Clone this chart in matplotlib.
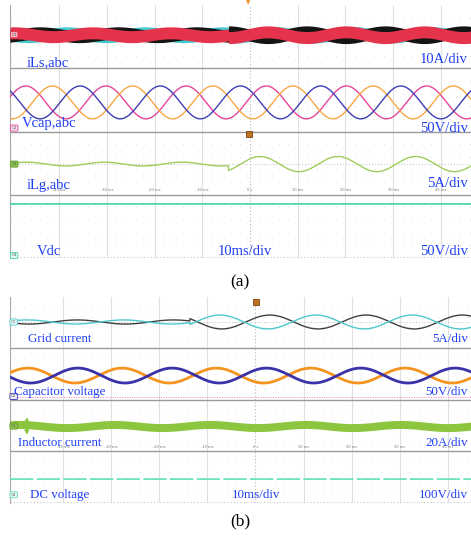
import numpy as np
import matplotlib.pyplot as plt

# scope time ticks (ms)
t_ticks = [-40, -30, -20, -10, 0, 10, 20, 30, 40]
t_tick_labels = ['-40 ms', '-30 ms', '-20 ms', '-10 ms', '0 s',
                 '10 ms', '20 ms', '30 ms', '40 ms']

# ---- panel (a), y in div (0 = screen bottom), t in ms
a_step = -4.5                       # disturbance instant
ils_offset = 7.06
ils_halfwidth = 0.19                # ripple band
ils_amp_before = [0.06, 0.06, 0.06]     # red, black, cyan
ils_amp_after = [0.09, 0.09, 0.07]
ils_period = 16.4
ils_peak_before = [-33.0, -44.0, -38.4]
ils_peak_after = [3.7, 11.9, 5.0]

vcap_offset = 4.92
vcap_amp = 0.52
vcap_period = 16.8
vcap_peak = [3.4, 9.0, 14.8]        # pink, orange, blue

ilg_offset = 2.97
ilg_amp_before = 0.06
ilg_amp_after = 0.24
ilg_period = 16.3
ilg_peak = 2.1

vdc_a_level = 1.71

# ---- panel (b)
b_step = -13.6
igrid_offset = 7.01
igrid_amp_before = 0.08
igrid_amp_after = 0.27
igrid_period = 20.0
igrid_peak = [3.0, -7.4]            # black, cyan

vcb_offset = 4.93
vcb_amp = 0.29
vcb_period = 19.6
vcb_peak = [11.5, 2.3]              # orange, blue

ilb_offset = 2.97
ilb_halfwidth = 0.155
ilb_amp = 0.06
ilb_period = 19.8
ilb_peak = 10.3

vdc_b_level = 0.91

labels_a = ['iLs,abc', 'Vcap,abc', 'iLg,abc', 'Vdc']
scales_a = ['10A/div', '50V/div', '5A/div', '50V/div']
labels_b = ['Grid current', 'Capacitor voltage', 'Inductor current', 'DC voltage']
scales_b = ['5A/div', '50V/div', '20A/div', '100V/div']

BLUE_TXT = '#1f3ff5'
SERIF = 'Liberation Serif'


def wave(t, amp, period, peak):
    return amp * np.cos(2 * np.pi * (t - peak) / period)


def screen(ax, xlim):
    ax.set_xlim(*xlim)
    ax.set_ylim(0, 8)
    for s in ['top', 'right', 'bottom']:
        ax.spines[s].set_visible(False)
    ax.spines['left'].set_color('#a8a8a8')
    ax.set_xticks([])
    ax.set_yticks([])
    # dotted scope graticule
    gx, gy = np.meshgrid(np.arange(-50, 50, 2.0), np.arange(0.4, 8, 0.4))
    ax.scatter(gx.ravel(), gy.ravel(), s=0.3, color='#d4d4d4', lw=0, zorder=0)
    for tt in t_ticks:
        if tt == 0:
            ax.axvline(tt, color='#b8b8b8', lw=0.8, ls=(0, (1, 2)), zorder=0)
        else:
            ax.axvline(tt, color='#e0e0e0', lw=0.8, zorder=0)
    for y in [2, 4, 6]:
        ax.axhline(y, color='#9a9a9a', lw=1.0, zorder=1)
    ax.axhline(0.03, color='#c8c8c8', lw=0.8, ls=(0, (1, 2)), zorder=1)
    for tt, lab in zip(t_ticks, t_tick_labels):
        ax.text(tt, 2.08, lab, fontsize=2.6, color='#777777', ha='center', va='bottom')


def tag(ax, x, y, text, face, edge):
    ax.text(x, y, text, fontsize=3, color='#555555', ha='left', va='center',
            bbox=dict(boxstyle='round,pad=0.25', fc=face, ec=edge, lw=0.6), zorder=6)


fig = plt.figure(figsize=(4.71, 5.38), dpi=100)

# ================= panel (a)
ax = fig.add_axes([10 / 471, 1 - 258 / 538, 461 / 471, 253 / 538])
xa = (-50.3, 46.3)
screen(ax, xa)
t = np.linspace(xa[0], xa[1], 3000)
pre = t < a_step

band_colors = ['#e5334b', '#141414', '#45c9cf']
for i in [2, 1, 0]:
    c = np.where(pre, wave(t, ils_amp_before[i], ils_period, ils_peak_before[i]),
                 wave(t, ils_amp_after[i], ils_period, ils_peak_after[i])) + ils_offset
    ax.fill_between(t, c - ils_halfwidth, c + ils_halfwidth, color=band_colors[i],
                    lw=0, zorder=3 + (2 - i))

for pk, col in zip(vcap_peak, ['#e6449a', '#f7a845', '#3d3db5']):
    ax.plot(t, vcap_offset + wave(t, vcap_amp, vcap_period, pk), color=col, lw=1.0, zorder=3)

ax.axhline(ilg_offset, color='#bdbdbd', lw=0.7, ls=(0, (1, 2)), zorder=2)
ilg = np.where(pre, wave(t, ilg_amp_before, ilg_period, ilg_peak),
               wave(t, ilg_amp_after, ilg_period, ilg_peak)) + ilg_offset
ax.plot(t, ilg, color='#9fcd5a', lw=1.0, zorder=3)

ax.plot(t, np.full_like(t, vdc_a_level), color='#3fd6a2', lw=1.2, zorder=3)

tag(ax, -50.0, ils_offset, 'C1', '#f6b6c2', '#e5334b')
tag(ax, -50.0, 4.11, 'C2', '#fbe3ef', '#e6449a')
tag(ax, -50.0, ilg_offset, 'C3', '#8cc34a', '#6a9a30')
tag(ax, -50.0, 0.08, 'C4', '#e6faf3', '#3fd6a2')

ax.text(-0.4, 8.07, '\u25bc', fontsize=4, color='#f08a24', ha='center', va='center', clip_on=False)
ax.plot([-0.2], [3.92], marker='s', ms=4, color='#c0701e', mec='#603000', mew=0.5, zorder=7)

ya_lab = [6.19, 4.24, 2.28, 0.22]
ya_scale = [6.27, 4.11, 2.37, 0.22]
xa_lab = [-46.75, -47.8, -46.75, -44.65]
for lab, sc, yl, ys, xl in zip(labels_a, scales_a, ya_lab, ya_scale, xa_lab):
    ax.text(xl, yl, lab, family=SERIF, fontsize=10.5, color=BLUE_TXT, ha='left', va='center', zorder=8)
    ax.text(45.7, ys, sc, family=SERIF, fontsize=10.5, color=BLUE_TXT, ha='right', va='center', zorder=8)
ax.text(-6.7, 0.19, '10ms/div', family=SERIF, fontsize=10.5, color=BLUE_TXT, ha='left', va='center')

# ================= panel (b)
bx = fig.add_axes([10 / 471, 1 - 502.5 / 538, 461 / 471, 206 / 538])
xb = (-51.0, 44.8)
screen(bx, xb)
t = np.linspace(xb[0], xb[1], 3000)
pre = t < b_step

bx.axhline(igrid_offset, color='#bdbdbd', lw=0.7, ls=(0, (1, 2)), zorder=2)
for pk, col in zip(igrid_peak, ['#404040', '#4cc8cc']):
    y = np.where(pre, wave(t, igrid_amp_before, igrid_period, pk),
                 wave(t, igrid_amp_after, igrid_period, pk)) + igrid_offset
    bx.plot(t, y, color=col, lw=1.0, zorder=3)

bx.axhline(4.10, color='#e87fc0', lw=0.7, ls=(0, (1, 1.5)), zorder=2)
for pk, col in zip(vcb_peak, ['#f5941f', '#3a32a8']):
    bx.plot(t, vcb_offset + wave(t, vcb_amp, vcb_period, pk), color=col, lw=2.0, zorder=3)

c = ilb_offset + wave(t, ilb_amp, ilb_period, ilb_peak)
bx.fill_between(t, c - ilb_halfwidth, c + ilb_halfwidth, color='#8cc63e', lw=0, zorder=3)
bx.annotate('', xy=(-47.5, 3.42), xytext=(-47.5, 2.52),
            arrowprops=dict(arrowstyle='<|-|>', color='#8cc63e', lw=1.0, mutation_scale=6), zorder=7)

bx.plot(t, np.full_like(t, vdc_b_level), color='#5ee0b8', lw=1.2, ls=(0, (14, 2)), zorder=3)

tag(bx, -50.8, igrid_offset, 'C1', '#e8fafa', '#4cc8cc')
tag(bx, -50.8, 4.12, 'C2', '#ecebf8', '#3a32a8')
tag(bx, -50.8, ilb_offset, 'C3', '#8cc34a', '#6a9a30')
tag(bx, -50.8, 0.30, 'C4', '#e6faf3', '#5ee0b8')

bx.plot([0.1], [7.79], marker='s', ms=4, color='#c0701e', mec='#603000', mew=0.5, zorder=7, clip_on=False)

yb_lab = [6.35, 4.29, 2.31, 0.29]
xb_lab = [-47.3, -50.2, -49.4, -46.9]
for lab, sc, yl, xl in zip(labels_b, scales_b, yb_lab, xb_lab):
    bx.text(xl, yl, lab, family=SERIF, fontsize=9.4, color=BLUE_TXT, ha='left', va='center', zorder=8)
    bx.text(44.2, yl, sc, family=SERIF, fontsize=9.4, color=BLUE_TXT, ha='right', va='center', zorder=8)
bx.text(-4.9, 0.29, '10ms/div', family=SERIF, fontsize=9.4, color=BLUE_TXT, ha='left', va='center')

fig.text(240 / 471, 1 - 282 / 538, '(a)', family=SERIF, fontsize=12.5, ha='center', va='center')
fig.text(240 / 471, 1 - 521 / 538, '(b)', family=SERIF, fontsize=12.5, ha='center', va='center')

fig.savefig('out.png', dpi=100)
